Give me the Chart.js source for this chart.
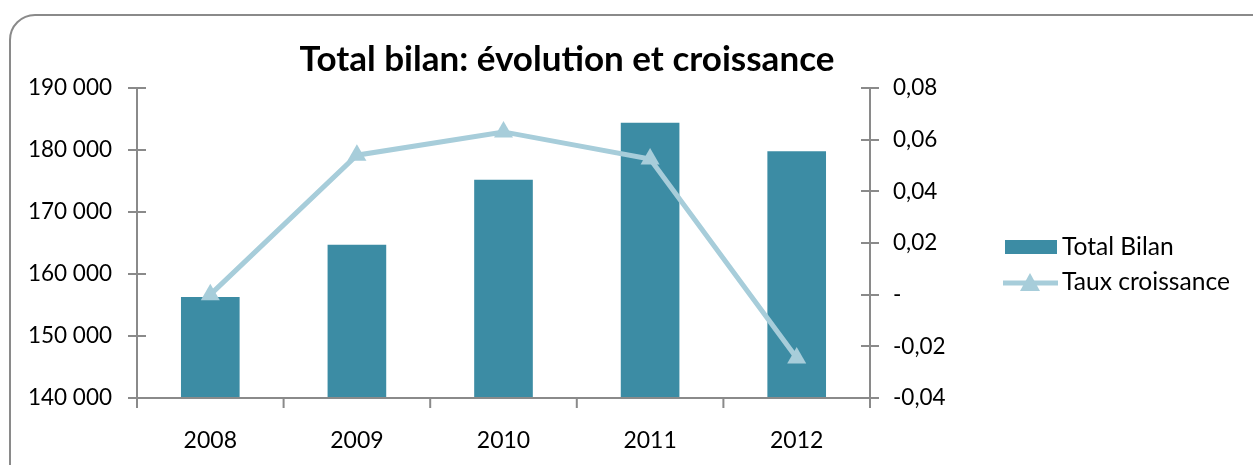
<!DOCTYPE html>
<html><head><meta charset="utf-8">
<script src="https://cdn.jsdelivr.net/npm/chart.js@4.4.0/dist/chart.umd.min.js"></script>
<style>
html,body{margin:0;padding:0;background:#fff;overflow:hidden;}
#wrap{position:relative;width:1253px;height:465px;}
#frame{position:absolute;left:9px;top:14px;width:1300px;height:500px;border:2px solid #8a8a8a;border-radius:26px;box-sizing:border-box;}
canvas{position:absolute;left:0;top:0;}
</style></head>
<body><div id="wrap"><div id="frame"></div><canvas id="c" width="1253" height="465"></canvas></div>
<script>
const categories = ["2008","2009","2010","2011","2012"];
const totalBilan = [156300,164700,175200,184400,179800];
const tauxCroissance = [0,0.054,0.063,0.0525,-0.0245];
const leftTicks = {min:140000,max:190000,step:10000};
const rightTicks = {min:-0.04,max:0.08,step:0.02};
const titleText = "Total bilan: évolution et croissance";
const seriesNames = ["Total Bilan","Taux croissance"];

const FONT = "Lato, 'Open Sans', sans-serif";
const BAR = "#3c8ca4", LINE = "#a7cdda", AXIS = "#8a8a8a";

function fmtLeft(v){return String(Math.round(v)).replace(/\B(?=(\d{3})+(?!\d))/g," ");}
function fmtRight(v){const r=Math.round(v*100)/100; if(r===0) return "-"; return r.toFixed(2).replace(".",",");}

function triangle(ctx,x,y,w,h){ctx.beginPath();ctx.moveTo(x,y-h/2);ctx.lineTo(x+w/2,y+h/2);ctx.lineTo(x-w/2,y+h/2);ctx.closePath();ctx.fill();}

const decor = {
  id:'decor',
  afterDraw(chart){
    const ctx=chart.ctx, a=chart.chartArea, s=chart.scales;
    ctx.save();
    ctx.strokeStyle=AXIS; ctx.lineWidth=2;
    ctx.beginPath();
    ctx.moveTo(a.left,a.top);ctx.lineTo(a.left,a.bottom);
    ctx.moveTo(a.right,a.top);ctx.lineTo(a.right,a.bottom);
    ctx.moveTo(a.left-9,a.bottom);ctx.lineTo(a.right+9,a.bottom);
    for(let v=leftTicks.min; v<=leftTicks.max+1; v+=leftTicks.step){const y=Math.round(s.y.getPixelForValue(v));ctx.moveTo(a.left-9,y);ctx.lineTo(a.left+9,y);}
    for(let i=0;i<=6;i++){const v=rightTicks.min+i*rightTicks.step;const y=Math.round(s.y1.getPixelForValue(v));ctx.moveTo(a.right-9,y);ctx.lineTo(a.right+9,y);}
    const n=categories.length;
    for(let i=0;i<=n;i++){const x=a.left+(a.right-a.left)*i/n;ctx.moveTo(x,a.bottom);ctx.lineTo(x,a.bottom+10);}
    ctx.stroke();
    // title
    ctx.fillStyle="#000";
    let fs=30; ctx.font="bold "+fs+"px "+FONT;
    const w=ctx.measureText(titleText).width; fs=fs*535/w; ctx.font="bold "+fs+"px "+FONT;
    ctx.textAlign="center";ctx.textBaseline="middle";
    ctx.fillText(titleText,567,60);
    // legend
    ctx.fillStyle=BAR; ctx.fillRect(1005,240,52,14);
    ctx.strokeStyle=LINE; ctx.lineWidth=5; ctx.beginPath();ctx.moveTo(1003,283);ctx.lineTo(1058,283);ctx.stroke();
    ctx.fillStyle=LINE; triangle(ctx,1030,282,20,18);
    ctx.fillStyle="#000";
    let ls=22; ctx.font=ls+"px "+FONT;
    ls=ls*168/ctx.measureText(seriesNames[1]).width; ctx.font=ls+"px "+FONT; ctx.textAlign="left";
    ctx.fillText(seriesNames[0],1062,247);
    ctx.fillText(seriesNames[1],1062,282);
    ctx.restore();
  }
};

new Chart(document.getElementById('c'),{
  data:{labels:categories,datasets:[
    {type:'line',label:seriesNames[1],data:tauxCroissance,yAxisID:'y1',borderColor:LINE,backgroundColor:LINE,borderWidth:5,pointStyle:'triangle',pointRadius:11,pointHoverRadius:11,pointBorderWidth:0,tension:0,order:0},
    {type:'bar',label:seriesNames[0],data:totalBilan,yAxisID:'y',backgroundColor:BAR,borderWidth:0,barPercentage:0.4,categoryPercentage:1,order:1}
  ]},
  options:{
    responsive:false,animation:false,
    layout:{padding:{top:88,left:0,right:0,bottom:0}},
    plugins:{legend:{display:false},title:{display:false},tooltip:{enabled:false}},
    scales:{
      x:{offset:true,grid:{display:false,offset:true,drawTicks:false},border:{display:false},
         ticks:{color:"#000",font:{family:FONT,size:23},padding:29},
         afterFit(sc){sc.height=67;}},
      y:{position:'left',min:leftTicks.min,max:leftTicks.max,grid:{display:false,drawTicks:false},border:{display:false},
         ticks:{stepSize:leftTicks.step,color:"#000",font:{family:FONT,size:22.5},padding:25,callback:v=>fmtLeft(v)},
         afterFit(sc){sc.width=137;}},
      y1:{position:'right',min:rightTicks.min,max:rightTicks.max,grid:{display:false,drawTicks:false},border:{display:false},
         ticks:{stepSize:rightTicks.step,color:"#000",font:{family:FONT,size:22.5},padding:23,callback:v=>fmtRight(v)},
         afterFit(sc){sc.width=383;}}
    }
  },
  plugins:[decor]
});
</script></body></html>
